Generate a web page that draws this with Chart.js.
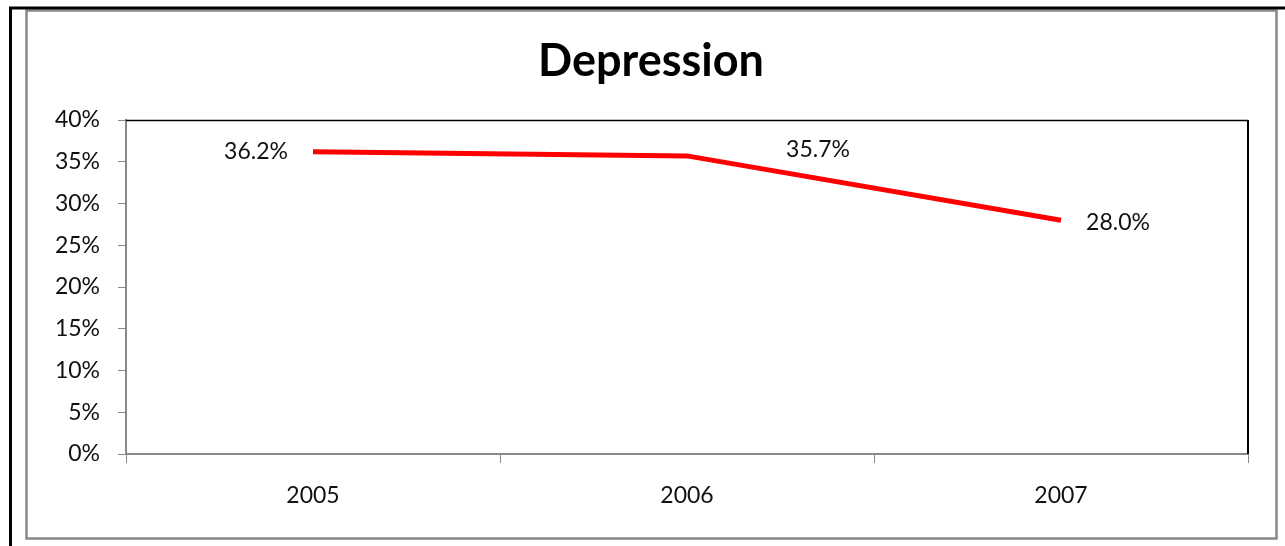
<!DOCTYPE html>
<html>
<head>
<meta charset="utf-8">
<script src="https://cdn.jsdelivr.net/npm/chart.js@4.4.0/dist/chart.umd.min.js"></script>
<style>
  html, body { margin: 0; padding: 0; background: #fff; }
  #wrap { width: 1285px; height: 546px; position: relative; }
</style>
</head>
<body>
<div id="wrap"><canvas id="myChart" width="1285" height="546"></canvas></div>
<script>
var years = ['2005', '2006', '2007'];
var depression = [0.362, 0.357, 0.280];
var yTicks = [0, 0.05, 0.10, 0.15, 0.20, 0.25, 0.30, 0.35, 0.40];
var chartTitle = 'Depression';

var fontFamily = 'Lato, "Open Sans", sans-serif';
var labelFont = '23px ' + fontFamily;

// frame around the chart, the title and the black plot borders on top and right
var framePlugin = {
    id: 'frame',
    afterDraw: function (chart) {
        var ctx = chart.ctx;
        var a = chart.chartArea;
        ctx.save();
        // gray chart border
        ctx.strokeStyle = '#888888';
        ctx.lineWidth = 2.5;
        ctx.strokeRect(26.5, 10.5, 1250, 528);
        // black lines (top / left)
        ctx.strokeStyle = '#000000';
        ctx.lineWidth = 3;
        ctx.beginPath();
        ctx.moveTo(10.5, 546);
        ctx.lineTo(10.5, 8);
        ctx.lineTo(1285, 8);
        ctx.stroke();
        // plot area top and right
        ctx.lineWidth = 1.5;
        ctx.beginPath();
        ctx.moveTo(a.left, a.top + 0.5);
        ctx.lineTo(a.right, a.top + 0.5);
        ctx.stroke();
        ctx.lineWidth = 2;
        ctx.beginPath();
        ctx.moveTo(a.right, a.top);
        ctx.lineTo(a.right, a.bottom);
        ctx.stroke();
        // title, centred on the gray frame
        ctx.fillStyle = '#000000';
        ctx.font = 'bold 45px ' + fontFamily;
        ctx.textAlign = 'center';
        ctx.textBaseline = 'middle';
        ctx.fillText(chartTitle, 651, 61);
        ctx.restore();
    }
};

// value labels next to the points
var valueLabels = {
    id: 'valueLabels',
    afterDatasetsDraw: function (chart, args, opts) {
        var ctx = chart.ctx;
        var meta = chart.getDatasetMeta(0);
        ctx.save();
        ctx.font = labelFont;
        ctx.fillStyle = '#111111';
        ctx.textAlign = 'center';
        ctx.textBaseline = 'middle';
        meta.data.forEach(function (pt, i) {
            var v = chart.data.datasets[0].data[i];
            ctx.fillText((v * 100).toFixed(1) + '%', pt.x + opts.dx[i], pt.y + opts.dy[i]);
        });
        ctx.restore();
    }
};

var ctx = document.getElementById('myChart').getContext('2d');
var myChart = new Chart(ctx, {
    type: 'line',
    data: {
        labels: years,
        datasets: [{
            label: chartTitle,
            data: depression,
            borderColor: '#ff0000',
            borderWidth: 5,
            pointRadius: 0,
            tension: 0,
            fill: false
        }]
    },
    options: {
        responsive: false,
        animation: false,
        layout: { padding: { left: 30, right: 37, top: 120, bottom: 10 } },
        plugins: {
            legend: { display: false },
            tooltip: { enabled: false },
            title: { display: false },
            valueLabels: { dx: [-57, 131, 57], dy: [0, -6, 2] }
        },
        scales: {
            x: {
                offset: true,
                grid: { offset: true, drawOnChartArea: false, color: '#888888', tickLength: 9 },
                border: { color: '#888888', width: 2 },
                ticks: { color: '#111111', font: { family: fontFamily, size: 23 }, padding: 19, maxRotation: 0 },
                afterFit: function (scale) { scale.height = 82; }
            },
            y: {
                min: 0,
                max: 0.4,
                afterBuildTicks: function (scale) {
                    scale.ticks = yTicks.map(function (v) { return { value: v }; });
                },
                grid: { drawOnChartArea: false, color: '#888888', tickLength: 8 },
                border: { color: '#888888', width: 2 },
                ticks: {
                    color: '#111111',
                    font: { family: fontFamily, size: 23 },
                    padding: 18,
                    callback: function (v) { return Math.round(v * 100) + '%'; }
                },
                afterFit: function (scale) { scale.width = 96; }
            }
        }
    },
    plugins: [framePlugin, valueLabels]
});
</script>
</body>
</html>
